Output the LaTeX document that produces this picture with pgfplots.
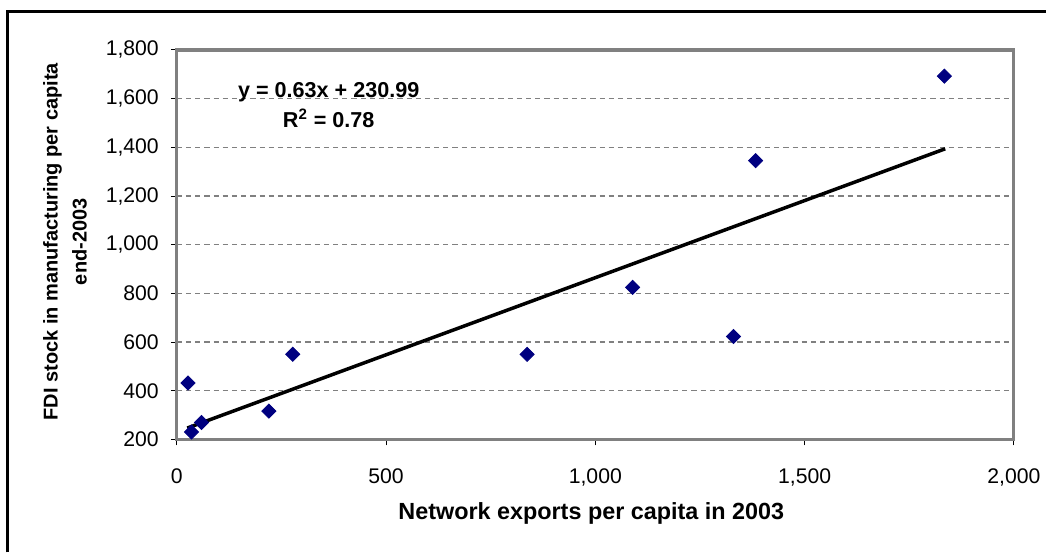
\documentclass[border=0pt]{standalone}
\usepackage{fontspec}
\setmainfont{Liberation Sans}
\usepackage{pgfplots}
\pgfplotsset{compat=1.18}
\definecolor{navy}{RGB}{0,0,128}
\definecolor{framegray}{RGB}{128,128,128}
\begin{document}
\begin{tikzpicture}
\path (0pt,0pt) rectangle (523.5pt,-276.5pt);
\draw[black, line width=1.2pt] (3.8pt,-276.5pt) -- (3.8pt,-5.8pt) -- (523.5pt,-5.8pt);
\begin{axis}[
  at={(88.5pt,-220pt)}, anchor=south west, scale only axis,
  width=419pt, height=195pt,
  xmin=0, xmax=2000, ymin=200, ymax=1800,
  xtick={0,500,1000,1500,2000},
  ytick={200,400,600,800,1000,1200,1400,1600,1800},
  /pgf/number format/.cd, 1000 sep={,}, assume math mode=true, /pgfplots/.cd,
  ticklabel style={font=\fontsize{10.6}{12}\selectfont},
  xticklabel style={yshift=-8pt},
  yticklabel style={xshift=-2.5pt},
  tick align=outside, major tick length=3pt,
  tick style={black, line width=0.5pt},
  xtick pos=bottom, ytick pos=left,
  axis line style={framegray, line width=1.6pt},
  ymajorgrids, grid style={framegray, line width=0.7pt, dash pattern=on 2.6pt off 2pt},
  xlabel={Network exports per capita in 2003},
  ylabel={FDI stock in manufacturing per capita\\end-2003},
  every axis x label/.style={at={([yshift=-37pt,xshift=-2pt]axis description cs:0.5,0)}, anchor=center, font=\fontsize{11.7}{13}\bfseries\selectfont},
  every axis y label/.style={at={([xshift=-56pt,yshift=1.5pt]axis description cs:0,0.5)}, rotate=90, anchor=center, align=center, font=\fontsize{10}{14.5}\bfseries\selectfont},
  clip=false,
]
\addplot[black, line width=1.75pt] coordinates {(25,247) (1836,1394)};
\addplot[only marks, mark=square*, mark size=2.5pt, mark options={navy, fill=navy, rotate=45}] coordinates {
(27,432) (35,231) (59,270) (220,317) (277,550) (837,550) (1089,825) (1330,623) (1383,1345) (1834,1692)
};
\node[font=\fontsize{10.8}{12}\bfseries\selectfont, anchor=center] at (axis cs:363,1625) {y = 0.63x + 230.99};
\node[font=\fontsize{10.8}{12}\bfseries\selectfont, anchor=center] at (axis cs:363,1518) {R\textsuperscript{2} = 0.78};
\end{axis}
\end{tikzpicture}
\end{document}
